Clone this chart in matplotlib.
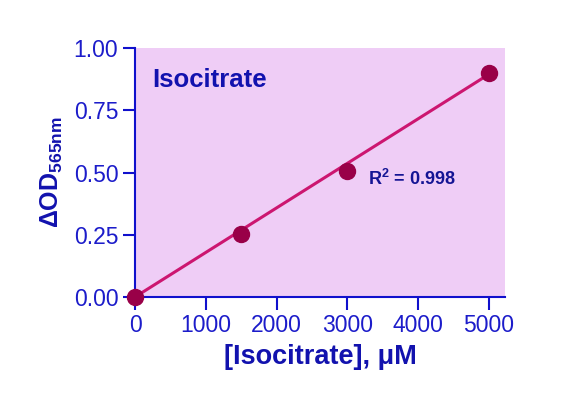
import matplotlib
matplotlib.use("Agg")
import matplotlib.pyplot as plt

plt.rcParams['font.family'] = ['Liberation Sans', 'DejaVu Sans']
plt.rcParams['mathtext.fontset'] = 'custom'
plt.rcParams['mathtext.rm'] = 'Liberation Sans'
plt.rcParams['mathtext.bf'] = 'Liberation Sans:bold'
plt.rcParams['mathtext.it'] = 'Liberation Sans:italic'

conc = [0, 1500, 3000, 5000]
od = [0.0, 0.255, 0.505, 0.90]
fit_x = [0, 5000]
fit_y = [0.0, 0.895]
x_ticks = [0, 1000, 2000, 3000, 4000, 5000]
y_ticks = [0.0, 0.25, 0.50, 0.75, 1.00]
y_tick_labels = ["0.00", "0.25", "0.50", "0.75", "1.00"]

tick_blue = "#1C1CCA"
label_blue = "#1212AE"
r2_blue = "#141494"
spine_blue = "#1010CC"
pink = "#EFCDF6"
line_c = "#CC1670"
marker_c = "#990048"

fig = plt.figure(figsize=(5.82, 4.0), dpi=100)
ax = fig.add_axes([135/582, 1-297/400, 370/582, 249/400])
ax.set_facecolor(pink)
ax.plot(fit_x, fit_y, color=line_c, lw=2.2, zorder=3)
ax.plot(conc, od, 'o', color=marker_c, ms=11.5, zorder=5, clip_on=False)

ax.set_xlim(0, 5225)
ax.set_ylim(0, 1.0)
ax.set_xticks(x_ticks)
ax.set_xticklabels([str(v) for v in x_ticks])
ax.set_yticks(y_ticks)
ax.set_yticklabels(y_tick_labels)

for s in ['top', 'right']:
    ax.spines[s].set_visible(False)
for s in ['left', 'bottom']:
    ax.spines[s].set_color(spine_blue)
    ax.spines[s].set_linewidth(1.5)
ax.tick_params(direction='out', length=9, width=1.5, color=spine_blue,
               labelcolor=tick_blue, labelsize=16.5, pad=3)

ax.set_xlabel("[Isocitrate], μM", fontsize=19.5, fontweight='bold', color=label_blue, labelpad=5)
ax.set_ylabel(r"$\mathbf{\Delta OD}_{\mathbf{565nm}}$", fontsize=18, color=label_blue, labelpad=6)

ax.text(0.046, 0.843, "Isocitrate", transform=ax.transAxes, fontsize=18.5,
        fontweight='bold', color=label_blue, va='baseline')
ax.text(0.63, 0.45, r"R$^{\mathbf{2}}$ = 0.998", transform=ax.transAxes, fontsize=13,
        fontweight='bold', color=r2_blue, va='baseline')

fig.savefig("out.png", dpi=100)
